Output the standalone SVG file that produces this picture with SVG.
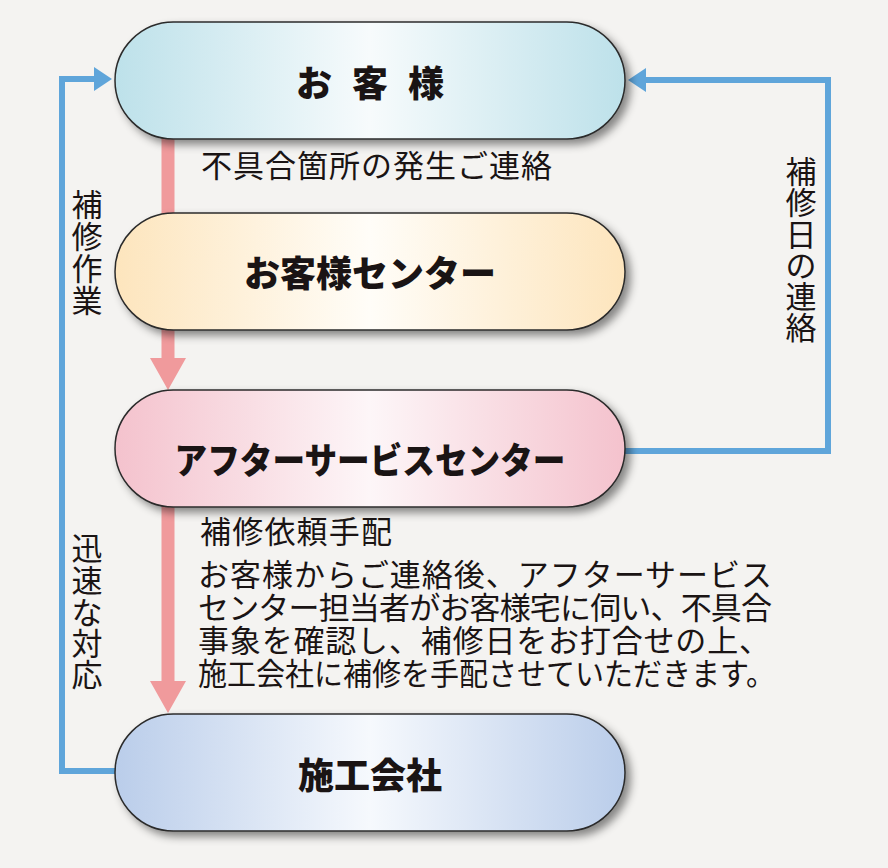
<svg xmlns="http://www.w3.org/2000/svg" width="888" height="868" viewBox="0 0 888 868">
<style>
.node{stroke:#2b2b2b;stroke-width:1.5;filter:url(#sh)}
.nt{font-family:"Noto Sans CJK JP","Noto Sans CJK SC",sans-serif;font-weight:900;font-size:36px;fill:#1a1414;text-anchor:middle}
.lb{font-family:"Noto Sans CJK JP","Noto Sans CJK SC",sans-serif;font-weight:400;font-size:31px;fill:#1a1414}
.vt{text-anchor:middle}
.pink{stroke:#f09a9c;stroke-width:13;fill:none}
.blue{stroke:#5fa5da;stroke-width:6;fill:none;stroke-linejoin:miter}
</style>
<defs>
<filter id="sh" x="-10%" y="-20%" width="125%" height="150%">
<feDropShadow dx="5" dy="5" stdDeviation="4" flood-color="#000" flood-opacity="0.45"/>
</filter>
<linearGradient id="g1" x1="0" y1="0" x2="1" y2="0">
<stop offset="0" stop-color="#bde1ea"/><stop offset="0.5" stop-color="#f7fbfc"/><stop offset="1" stop-color="#bde1ea"/>
</linearGradient>
<linearGradient id="g2" x1="0" y1="0" x2="1" y2="0">
<stop offset="0" stop-color="#fde5bd"/><stop offset="0.5" stop-color="#fffdf8"/><stop offset="1" stop-color="#fde5bd"/>
</linearGradient>
<linearGradient id="g3" x1="0" y1="0" x2="1" y2="0">
<stop offset="0" stop-color="#f4c2cd"/><stop offset="0.5" stop-color="#fdf6f8"/><stop offset="1" stop-color="#f4c2cd"/>
</linearGradient>
<linearGradient id="g4" x1="0" y1="0" x2="1" y2="0">
<stop offset="0" stop-color="#bacdea"/><stop offset="0.5" stop-color="#f6f9fd"/><stop offset="1" stop-color="#bacdea"/>
</linearGradient>
<marker id="ph" markerUnits="userSpaceOnUse" markerWidth="32" markerHeight="36" refX="0" refY="18" orient="auto">
<path d="M0,0 L32,18 L0,36 z" fill="#f09a9c"/>
</marker>
<marker id="bh" markerUnits="userSpaceOnUse" markerWidth="18" markerHeight="24" refX="0" refY="12" orient="auto">
<path d="M0,0 L18,12 L0,24 z" fill="#5fa5da"/>
</marker>
</defs>
<rect width="888" height="868" fill="#f4f3f1"/>
<g id="connectors">
<path class="pink" d="M168,130 V358" marker-end="url(#ph)"/>
<path class="pink" d="M168,500 V681" marker-end="url(#ph)"/>
<path class="blue" d="M116,771 H62 V79 H94" marker-end="url(#bh)"/>
<path class="blue" d="M624,451 H828 V80 H646" marker-end="url(#bh)"/>
</g>
<g id="node-customer">
<rect class="node" x="115" y="22" width="510" height="117" rx="58.5" fill="url(#g1)"/>
<text class="nt" y="97"><tspan x="314">お</tspan><tspan x="370">客</tspan><tspan x="426">様</tspan></text>
</g>
<g id="node-center">
<rect class="node" x="115" y="213" width="510" height="117" rx="58.5" fill="url(#g2)"/>
<text class="nt" x="370" y="287">お客様センター</text>
</g>
<g id="node-after">
<rect class="node" x="115" y="390" width="510" height="117" rx="58.5" fill="url(#g3)"/>
<text class="nt" x="370" y="474" textLength="391" lengthAdjust="spacingAndGlyphs">アフターサービスセンター</text>
</g>
<g id="node-contractor">
<rect class="node" x="115" y="714" width="510" height="117" rx="58.5" fill="url(#g4)"/>
<text class="nt" x="370" y="789">施工会社</text>
</g>
<g id="labels">
<text class="lb" x="201" y="177" textLength="351" lengthAdjust="spacing">不具合箇所の発生ご連絡</text>
<text class="lb vt"><tspan x="87" y="216">補</tspan><tspan x="87" y="248">修</tspan><tspan x="87" y="280">作</tspan><tspan x="87" y="312">業</tspan></text>
<text class="lb vt"><tspan x="87" y="560">迅</tspan><tspan x="87" y="592">速</tspan><tspan x="87" y="624">な</tspan><tspan x="87" y="655">対</tspan><tspan x="87" y="686">応</tspan></text>
<text class="lb vt"><tspan x="801" y="183">補</tspan><tspan x="801" y="214">修</tspan><tspan x="801" y="246">日</tspan><tspan x="801" y="277">の</tspan><tspan x="801" y="308">連</tspan><tspan x="801" y="339">絡</tspan></text>
<text class="lb" x="200" y="543" font-weight="700" textLength="192" lengthAdjust="spacing">補修依頼手配</text>
<text class="lb" x="198" y="586" textLength="574" lengthAdjust="spacing">お客様からご連絡後、アフターサービス</text>
<text class="lb" x="198" y="619" textLength="574" lengthAdjust="spacing">センター担当者がお客様宅に伺い、不具合</text>
<text class="lb" x="198" y="652" textLength="572" lengthAdjust="spacing">事象を確認し、補修日をお打合せの上、</text>
<text class="lb" x="198" y="685" textLength="577" lengthAdjust="spacingAndGlyphs">施工会社に補修を手配させていただきます。</text>
</g>
</svg>
